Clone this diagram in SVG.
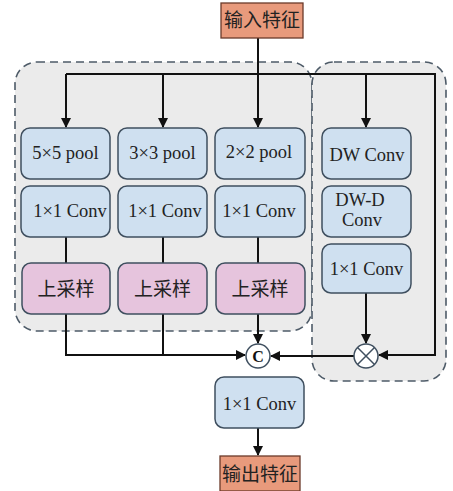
<svg xmlns="http://www.w3.org/2000/svg" width="453" height="491" viewBox="0 0 453 491">
<style>
.grp{fill:#ebebeb;stroke:#4e5b68;stroke-width:1.6;stroke-dasharray:8 5}
.blue{fill:#cfe0f0;stroke:#3f4f5f;stroke-width:1.5}
.pink{fill:#e6c4dd;stroke:#3f4f5f;stroke-width:1.5}
.io{fill:#e89a7c;stroke:#6b3a2a;stroke-width:1.3}
.t{font-family:"Liberation Serif","Noto Sans CJK SC",serif;font-size:18.5px;fill:#222;text-anchor:middle}
.c{font-family:"Liberation Serif","Noto Sans CJK SC",serif;font-size:19px;fill:#222;text-anchor:middle}
.ln{fill:none;stroke:#111;stroke-width:2}
</style>
<defs>
<marker id="ar" viewBox="0 0 10 10" refX="9" refY="5" markerWidth="5" markerHeight="5" orient="auto">
<path d="M0,0 L10,5 L0,10 z" fill="#111"/>
</marker>
</defs>
<g id="groups">
<rect class="grp" x="15" y="62" width="297" height="269" rx="22"/>
<rect class="grp" x="312" y="62" width="134" height="319" rx="22"/>
</g>
<g id="connectors">
<path class="ln" d="M258,38 V127" marker-end="url(#ar)"/>
<path class="ln" d="M66,74 H435 V355 H379" marker-end="url(#ar)"/>
<path class="ln" d="M66,74 V127" marker-end="url(#ar)"/>
<path class="ln" d="M163,74 V127" marker-end="url(#ar)"/>
<path class="ln" d="M366,74 V127" marker-end="url(#ar)"/>
<path class="ln" d="M66,237 V263"/>
<path class="ln" d="M163,237 V263"/>
<path class="ln" d="M258,237 V263"/>
<path class="ln" d="M66,314 V355 H245" marker-end="url(#ar)"/>
<path class="ln" d="M163,314 V355"/>
<path class="ln" d="M258,314 V343" marker-end="url(#ar)"/>
<path class="ln" d="M366,293 V343" marker-end="url(#ar)"/>
<path class="ln" d="M354,356 H271" marker-end="url(#ar)"/>
<path class="ln" d="M258,428 V455" marker-end="url(#ar)"/>
</g>
<g id="input"><rect class="io" x="221" y="3" width="82" height="35"/><text class="c" x="262" y="27">输入特征</text></g>
<g id="pool5"><rect class="blue" x="21" y="128" width="89" height="51" rx="9"/><text class="t" x="65.5" y="159">5×5 pool</text></g>
<g id="pool3"><rect class="blue" x="118" y="128" width="89" height="51" rx="9"/><text class="t" x="162.5" y="159">3×3 pool</text></g>
<g id="pool2"><rect class="blue" x="215" y="128" width="90" height="51" rx="9"/><text class="t" x="259" y="158">2×2 pool</text></g>
<g id="dwconv"><rect class="blue" x="322" y="128" width="89" height="51" rx="9"/><text class="t" x="367" y="161">DW Conv</text></g>
<g id="conv1a"><rect class="blue" x="21" y="186" width="89" height="51" rx="9"/><text class="t" x="70" y="217">1×1 Conv</text></g>
<g id="conv1b"><rect class="blue" x="118" y="186" width="89" height="51" rx="9"/><text class="t" x="165" y="217">1×1 Conv</text></g>
<g id="conv1c"><rect class="blue" x="215" y="186" width="90" height="51" rx="9"/><text class="t" x="259" y="217">1×1 Conv</text></g>
<g id="dwdconv"><rect class="blue" x="322" y="186" width="89" height="51" rx="9"/><text class="t" x="360" y="206">DW-D</text><text class="t" x="362" y="226">Conv</text></g>
<g id="up1"><rect class="pink" x="22" y="263" width="88" height="51" rx="9"/><text class="c" x="66" y="296">上采样</text></g>
<g id="up2"><rect class="pink" x="118" y="263" width="89" height="51" rx="9"/><text class="c" x="162.5" y="296">上采样</text></g>
<g id="up3"><rect class="pink" x="216" y="263" width="89" height="51" rx="9"/><text class="c" x="260" y="296">上采样</text></g>
<g id="conv1d"><rect class="blue" x="322" y="244" width="89" height="49" rx="9"/><text class="t" x="366.5" y="275">1×1 Conv</text></g>
<g id="concat"><circle cx="258" cy="356" r="12" fill="#fff" stroke="#3f4f5f" stroke-width="1.5"/><text x="258" y="362" font-family="Liberation Serif,serif" font-size="16" font-weight="bold" text-anchor="middle" fill="#111">C</text></g>
<g id="mult"><circle cx="366" cy="356" r="12" fill="#fff" stroke="#3f4f5f" stroke-width="1.5"/><path d="M357.5,347.5 L374.5,364.5 M374.5,347.5 L357.5,364.5" stroke="#3f4f5f" stroke-width="1.5"/></g>
<g id="conv1out"><rect class="blue" x="215" y="377" width="89" height="51" rx="9"/><text class="t" x="259.5" y="410">1×1 Conv</text></g>
<g id="output"><rect class="io" x="220" y="456" width="80" height="35"/><text class="c" x="260" y="481">输出特征</text></g>
</svg>
